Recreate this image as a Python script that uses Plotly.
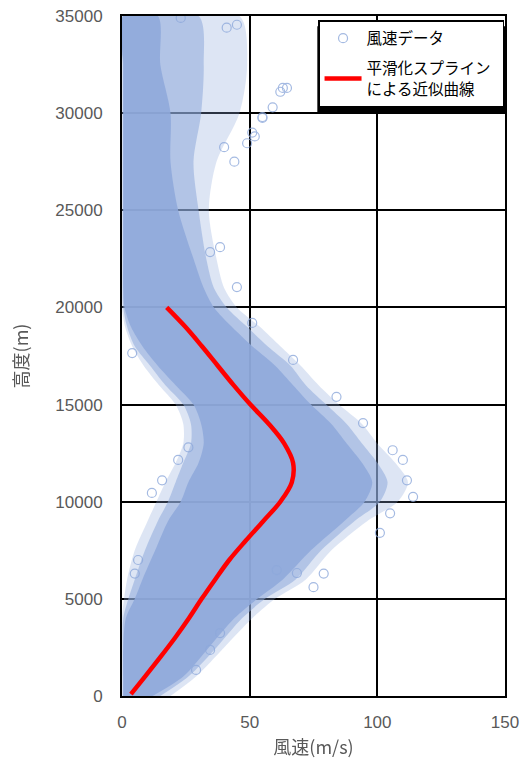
import plotly.graph_objects as go

# ---- data ----
# envelope of the wind-speed cloud (speed in m/s at given altitude in m)
env_alt = [0, 1000, 2500, 4000, 5000, 6000, 7500, 9000, 10000, 11000, 12000, 13000,
           14000, 15000, 16000, 17000, 18000, 19000, 20000, 21000, 22500, 25000,
           27500, 30000, 32500, 35000]
core_right = [12, 24, 34, 44, 53, 63, 74, 87, 95, 98, 94, 88, 82, 74, 67, 60, 51, 43,
              36, 32, 28, 22, 19, 19, 15, 14]
core_left = [0.5, 0.5, 0.5, 1.5, 5, 8, 13, 18, 23, 26, 30, 32, 31, 28, 21, 14, 8, 3.5,
             1, 0.5, 0.5, 0.5, 0.5, 0.5, 0.5, 0.5]
mid_right = [15, 26, 37, 47, 56, 68, 78, 91, 101, 104, 100, 94, 88, 80, 72, 66, 57, 49,
             41, 36, 33, 30, 28, 31, 32, 30]
mid_left = [0.3, 0.3, 0.3, 0.5, 2.5, 5, 9, 14, 18, 21, 24, 27, 27, 24, 17, 11, 5, 2,
            0.5, 0.3, 0.3, 0.3, 0.3, 0.3, 0.3, 0.3]
outer_right = [19, 29, 40, 51, 60, 72, 82, 96, 108, 112, 107, 100, 94, 85, 77, 70, 62,
               54, 45, 40, 37, 34, 37, 46, 49, 46]
outer_left = [0, 0, 0, 0, 0.8, 2, 5, 10, 13.5, 17, 21, 24, 24, 21, 14.5, 8.5, 4, 1.2,
              0, 0, 0, 0, 0, 0, 0, 0]

# scattered individual observations outside the dense cloud
pt_speed = [64.6, 63, 62, 55, 51, 55, 59, 52, 49, 44, 40, 45, 41, 23,
            114, 111.6, 110, 106, 105, 101, 79, 75, 84, 94.4,
            11.7, 15.7, 22, 6.3, 5, 26, 4,
            34.5, 29, 38.4, 60.6, 68.5,
            45, 38.4, 34.5, 51, 67]
pt_alt = [31300, 31300, 31100, 29750, 29000, 29800, 30300, 28800, 28450, 27500, 28250,
          34550, 34400, 34900,
          10250, 11100, 12150, 12650, 9400, 8400, 6300, 5600, 15400, 14050,
          10450, 11100, 12150, 7000, 6300, 12800, 17650,
          2370, 1340, 3240, 6480, 6330,
          21050, 23100, 22850, 19200, 17300]

# smoothing-spline approximation curve
fit_alt = [100, 1000, 2000, 3000, 4000, 5000, 6000, 7000, 8000, 9000, 10000, 11000,
           12000, 13000, 14000, 15000, 16000, 17000, 18000, 19000, 20000]
fit_speed = [3.5, 9, 15, 20.8, 26.2, 31.2, 36.5, 42, 48.5, 55.3, 62, 66.5, 67, 63.5,
             57.5, 50.3, 43.7, 37.5, 31.3, 24.8, 17.5]

blue = "rgb(142,169,219)"

fig = go.Figure()

def band(right, left, color):
    fig.add_trace(go.Scatter(
        x=right + left[::-1], y=env_alt + env_alt[::-1],
        fill="toself", fillcolor=color, mode="lines",
        line=dict(width=0, shape="spline", smoothing=0.8, color=color),
        showlegend=False, hoverinfo="skip"))

band(outer_right, outer_left, "rgba(142,169,219,0.30)")
band(mid_right, mid_left, "rgba(142,169,219,0.55)")
band(core_right, core_left, "rgba(142,169,219,0.88)")

fig.add_trace(go.Scatter(
    x=pt_speed, y=pt_alt, mode="markers", name="風速データ",
    marker=dict(symbol="circle-open", size=9, color=blue, line=dict(width=1.2, color=blue)),
    opacity=0.8, legendgroup="a"))

fig.add_trace(go.Scatter(
    x=fit_speed, y=fit_alt, mode="lines",
    name="平滑化スプライン\u00a0\u00a0<br>による近似曲線",
    line=dict(color="#FF0000", width=4.5, shape="spline", smoothing=1.0),
    legendgroup="b"))

tickfont = dict(family="Liberation Sans, Arial, sans-serif", size=17, color="#595959")
titlefont = dict(family="Noto Sans CJK JP, sans-serif", size=18, color="#595959")

fig.update_layout(
    width=524, height=775,
    margin=dict(l=122, r=19, t=16, b=79),
    paper_bgcolor="white", plot_bgcolor="white",
    showlegend=True,
    legend=dict(
        x=0.9975, y=0.994, xanchor="right", yanchor="top",
        bgcolor="white", bordercolor="black", borderwidth=1.5,
        font=dict(family="Noto Sans CJK JP, sans-serif", size=15.5, color="black"),
        itemwidth=37, tracegroupgap=7),
    shapes=[dict(type="rect", xref="paper", yref="paper",
                 x0=0.51, x1=1.004, y0=0.858, y1=0.985,
                 fillcolor="black", line=dict(width=0), layer="above")],
    xaxis=dict(
        range=[0, 150], tickvals=[0, 50, 100, 150], showgrid=True, automargin=False,
        gridcolor="black", gridwidth=2, showline=True, linecolor="black",
        linewidth=2, mirror=True, zeroline=False, ticks="", tickfont=tickfont,
        ticklabelstandoff=10,
        title=dict(text="風速(m/s)", font=titlefont, standoff=10)),
    yaxis=dict(
        range=[0, 35000], dtick=5000, tickformat="d", showgrid=True, automargin=False,
        gridcolor="black", gridwidth=2, showline=True, linecolor="black",
        linewidth=2, mirror=True, zeroline=False, ticks="", tickfont=tickfont,
        ticklabelstandoff=14,
        title=dict(text="高度(m)", font=titlefont, standoff=22)),
)

fig.write_html("out.html")
